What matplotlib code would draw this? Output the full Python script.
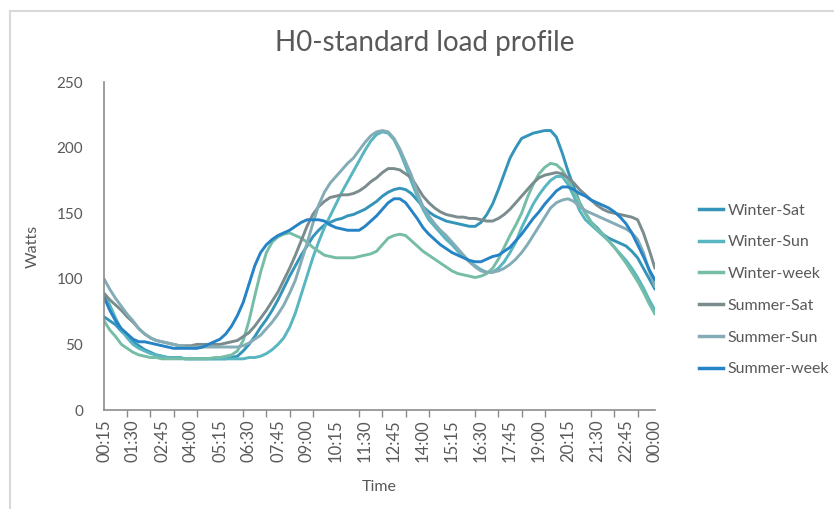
import matplotlib
matplotlib.use("Agg")
import matplotlib.pyplot as plt
from matplotlib.lines import Line2D

# quarter-hour slots, 00:15 ... 00:00
times = [f"{((i + 1) * 15 // 60) % 24:02d}:{(i + 1) * 15 % 60:02d}" for i in range(96)]

winter_sat = [71, 68, 65, 60, 56, 52, 49, 46, 44, 42, 41, 40, 40, 40, 39, 39,
              39, 39, 39, 39, 39, 39, 40, 41, 45, 50, 56, 63, 69, 76, 84, 93,
              102, 110, 118, 125, 132, 137, 141, 143, 145, 146, 148, 149, 151, 153, 156, 159,
              163, 166, 168, 169, 168, 165, 160, 155, 151, 148, 146, 144, 143, 142, 141, 140,
              140, 143, 149, 157, 168, 180, 192, 200, 207, 209, 211, 212, 213, 213, 208, 196,
              182, 170, 158, 150, 143, 139, 134, 131, 129, 127, 125, 121, 116, 108, 100, 92]

winter_sun = [88, 80, 70, 61, 55, 50, 47, 45, 43, 42, 41, 40, 40, 40, 39, 39,
              39, 39, 39, 39, 39, 39, 39, 39, 39, 40, 40, 41, 43, 46, 50, 55,
              63, 74, 88, 102, 116, 128, 139, 148, 157, 166, 174, 182, 190, 198, 205, 210,
              212, 211, 206, 197, 186, 174, 163, 153, 145, 140, 135, 130, 126, 121, 117, 113,
              110, 107, 105, 105, 108, 113, 120, 128, 139, 148, 157, 164, 170, 175, 178, 178,
              172, 163, 152, 145, 141, 137, 133, 129, 124, 119, 114, 108, 101, 93, 84, 76]

winter_week = [68, 61, 56, 50, 47, 44, 42, 41, 40, 40, 39, 39, 39, 39, 39, 39,
               39, 39, 39, 40, 40, 41, 42, 45, 53, 68, 87, 105, 120, 128, 132, 134,
               135, 133, 131, 128, 124, 121, 118, 117, 116, 116, 116, 116, 117, 118, 119, 121,
               126, 131, 133, 134, 133, 129, 125, 121, 118, 115, 112, 109, 106, 104, 103, 102,
               101, 102, 104, 108, 115, 124, 133, 141, 150, 162, 172, 180, 185, 188, 187, 183,
               176, 167, 158, 150, 143, 138, 134, 129, 124, 118, 112, 105, 98, 90, 81, 73]

summer_sat = [89, 84, 80, 76, 71, 67, 62, 58, 55, 53, 52, 51, 50, 49, 49, 49,
              50, 50, 50, 50, 50, 51, 52, 53, 56, 59, 64, 70, 76, 83, 90, 99,
              108, 118, 129, 140, 149, 155, 159, 162, 163, 164, 164, 165, 167, 170, 174, 177,
              181, 184, 184, 183, 180, 177, 170, 163, 158, 154, 151, 149, 148, 147, 147, 146,
              146, 145, 144, 144, 146, 149, 153, 158, 163, 168, 173, 177, 179, 180, 181, 180,
              177, 173, 168, 164, 160, 156, 153, 151, 150, 149, 148, 147, 145, 135, 122, 108]

summer_sun = [100, 92, 85, 79, 73, 68, 62, 58, 55, 53, 52, 51, 50, 49, 48, 48,
              48, 48, 48, 48, 48, 48, 48, 48, 49, 51, 54, 57, 62, 67, 73, 80,
              89, 99, 113, 127, 142, 156, 166, 173, 178, 183, 188, 192, 198, 204, 209, 212,
              213, 212, 207, 199, 189, 179, 166, 155, 148, 142, 137, 133, 128, 123, 118, 113,
              109, 106, 105, 105, 106, 108, 111, 115, 120, 126, 133, 140, 147, 154, 158, 160,
              161, 159, 155, 152, 150, 148, 146, 144, 142, 140, 138, 135, 130, 120, 106, 94]

summer_week = [86, 76, 68, 62, 58, 54, 52, 52, 51, 50, 49, 48, 47, 47, 47, 47,
               47, 48, 50, 52, 54, 58, 64, 72, 82, 96, 110, 120, 126, 130, 133, 135,
               137, 140, 143, 145, 145, 145, 144, 141, 139, 138, 137, 137, 137, 140, 144, 148,
               153, 158, 161, 161, 158, 152, 146, 139, 134, 130, 126, 123, 120, 118, 116, 114,
               113, 113, 115, 117, 118, 121, 124, 129, 134, 140, 146, 151, 157, 162, 167, 170,
               170, 168, 165, 163, 160, 158, 156, 154, 151, 147, 142, 135, 126, 117, 107, 99]

series = ["Winter-Sat", "Winter-Sun", "Winter-week", "Summer-Sat", "Summer-Sun", "Summer-week"]
values = [winter_sat, winter_sun, winter_week, summer_sat, summer_sun, summer_week]
colors = ["#3494BA", "#58B6C0", "#75BDA7", "#7A8C8E", "#84ACB6", "#2683C6"]

plt.rcParams['font.family'] = ['Lato', 'DejaVu Sans']
TXT = "#595959"
AX = "#8c8c8c"

fig = plt.figure(figsize=(8.34, 5.09), dpi=100)
ax = fig.add_axes([104 / 834, 99 / 509, 551 / 834, 328 / 509])

x = list(range(len(times)))
for name, vals, c in zip(series, values, colors):
    ax.plot(x, vals, color=c, lw=2.1, label=name, solid_capstyle="round")

ax.set_xlim(0, 95)
ax.set_ylim(0, 250)
ax.set_yticks(range(0, 251, 50))
ax.set_xticks(x[::5])
ax.set_xticklabels(times[::5], rotation=90)
ax.set_xticks([i for i in range(0, 96, 4)], minor=True)
ax.tick_params(axis="x", which="major", length=0, pad=7, labelsize=12, labelcolor=TXT)
ax.tick_params(axis="x", which="minor", length=5, color=AX, width=1)
ax.tick_params(axis="y", length=0, pad=15, labelsize=11, labelcolor=TXT)

for side in ["top", "right"]:
    ax.spines[side].set_visible(False)
for side in ["left", "bottom"]:
    ax.spines[side].set_color(AX)
    ax.spines[side].set_linewidth(1.2)

ax.set_xlabel("Time", fontsize=11.5, color=TXT, labelpad=13)
ax.set_ylabel("Watts", fontsize=11.5, color=TXT, labelpad=12)
fig.text(425 / 834, 1 - 43 / 509, "H0-standard load profile", ha="center", va="center",
         fontsize=20, color=TXT)

handles = [Line2D([0], [0], color=c, lw=2.5) for c in colors]
fig.legend(handles, series, loc="upper left", bbox_to_anchor=(693 / 834, 1 - 197 / 509),
           frameon=False, fontsize=11.5, labelcolor=TXT, handlelength=1.5,
           handletextpad=0.25, labelspacing=1.1, borderaxespad=0)

# chart-area border (top-left corner visible)
fig.add_artist(Line2D([10 / 834, 10 / 834], [0, 1 - 11 / 509], color="#d9d9d9", lw=1.5,
                      transform=fig.transFigure))
fig.add_artist(Line2D([10 / 834, 1], [1 - 11 / 509, 1 - 11 / 509], color="#d9d9d9", lw=1.5,
                      transform=fig.transFigure))

fig.savefig("out.png", dpi=100)
